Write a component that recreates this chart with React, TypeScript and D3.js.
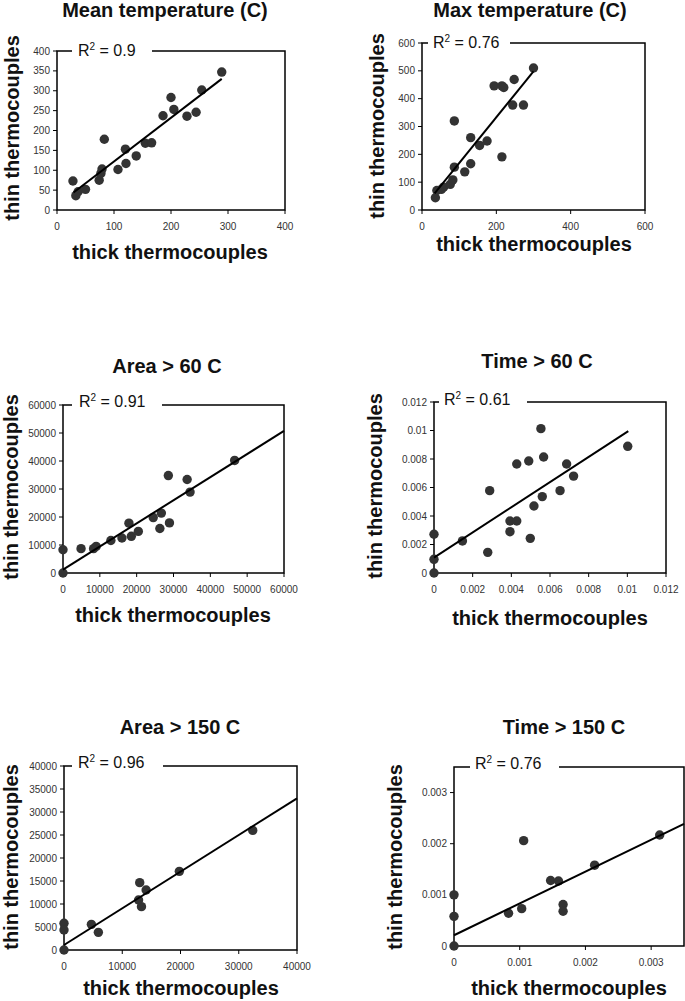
import React from 'react';
import * as d3 from 'd3';

// readings (thick = x, thin = y)
const meanThick = [28, 33, 37, 50, 74, 77, 79, 83, 107, 120, 121, 139, 155, 166, 186, 200, 205, 228, 244, 254, 289];
const meanThin = [73, 36, 46, 52, 75, 92, 103, 178, 102, 153, 117, 136, 168, 169, 237, 283, 253, 236, 246, 302, 347];

const maxThick = [36, 40, 52, 58, 76, 83, 87, 87, 115, 131, 131, 155, 175, 194, 215, 215, 220, 244, 248, 273, 300];
const maxThin = [44, 70, 74, 82, 92, 108, 154, 320, 137, 260, 166, 232, 248, 446, 191, 446, 440, 377, 469, 377, 510];

const area60Thick = [0, 0, 4900, 8300, 9000, 13000, 16000, 17900, 18550, 20450, 24500, 26700, 26300, 28600, 28900, 33700, 34500, 46600];
const area60Thin = [0, 8300, 8700, 8700, 9500, 11600, 12500, 17800, 13100, 14850, 19800, 21400, 15900, 34800, 17900, 33400, 28900, 40200];

const time60Thick = [0, 0, 0, 0.00147, 0.00278, 0.00288, 0.00393, 0.00393, 0.00428, 0.00428, 0.0049, 0.00498, 0.00517, 0.00553, 0.0056, 0.00567, 0.00652, 0.00686, 0.00722, 0.01002];
const time60Thin = [0, 0.00096, 0.00272, 0.00225, 0.00145, 0.00578, 0.0029, 0.00365, 0.00365, 0.00765, 0.00786, 0.00243, 0.0047, 0.01013, 0.00536, 0.00814, 0.00578, 0.00765, 0.0068, 0.00889];

const area150Thick = [0, 0, 0, 4700, 5900, 12800, 13000, 13300, 14100, 19800, 32400];
const area150Thin = [0, 5800, 4350, 5580, 3840, 10870, 14640, 9420, 13040, 17100, 26000];

const time150Thick = [0, 0, 0, 0.00083, 0.00103, 0.00106, 0.00147, 0.00159, 0.00166, 0.00166, 0.00214, 0.00313];
const time150Thin = [0, 0.001, 0.00058, 0.00064, 0.00073, 0.00206, 0.00128, 0.00127, 0.00081, 0.00068, 0.00158, 0.00217];

const titles = ['Mean temperature (C)', 'Max temperature (C)', 'Area > 60 C', 'Time > 60 C', 'Area > 150 C', 'Time > 150 C'];
const r2Labels = ['0.9', '0.76', '0.91', '0.61', '0.96', '0.76'];

// linear fits: [slope, intercept], drawn over [from, to]
const fitSlopes = [1.1, 1.647, 0.826, 0.8836, 0.797, 0.622];
const fitIntercepts = [12, 4, 1200, 0.00108, 1087, 0.00021];
const fitFrom = [29, 34, 0, 0, 0, 0];
const fitTo = [289, 300, 60000, 0.01005, 40000, 0.0035];

const xMax = [400, 600, 60000, 0.012, 40000, 0.0035];
const yMax = [400, 600, 60000, 0.012, 40000, 0.0035];
const xTickVals = [
  [0, 100, 200, 300, 400],
  [0, 200, 400, 600],
  [0, 10000, 20000, 30000, 40000, 50000, 60000],
  [0, 0.002, 0.004, 0.006, 0.008, 0.01, 0.012],
  [0, 10000, 20000, 30000, 40000],
  [0, 0.001, 0.002, 0.003],
];
const yTickVals = [
  [0, 50, 100, 150, 200, 250, 300, 350, 400],
  [0, 100, 200, 300, 400, 500, 600],
  [0, 10000, 20000, 30000, 40000, 50000, 60000],
  [0, 0.002, 0.004, 0.006, 0.008, 0.01, 0.012],
  [0, 5000, 10000, 15000, 20000, 25000, 30000, 35000, 40000],
  [0, 0.001, 0.002, 0.003],
];
const seriesX = [meanThick, maxThick, area60Thick, time60Thick, area150Thick, time150Thick];
const seriesY = [meanThin, maxThin, area60Thin, time60Thin, area150Thin, time150Thin];

// layout (pixels)
const layout = [
  { x0: 57, x1: 285, y0: 51, y1: 210, tx: 165, ty: 16.5, rx: 78, ry: 56, g0: 72, g1: 152, ylx: 18.5, yly: 128, xlx: 170, xly: 259 },
  { x0: 422, x1: 645, y0: 43, y1: 210, tx: 530, ty: 16.5, rx: 433, ry: 48, g0: 428, g1: 510, ylx: 384, yly: 126, xlx: 534, xly: 251 },
  { x0: 63, x1: 284, y0: 405, y1: 573, tx: 167, ty: 373, rx: 79, ry: 407, g0: 72, g1: 162, ylx: 17.5, yly: 487, xlx: 173, xly: 622 },
  { x0: 434, x1: 666, y0: 402, y1: 573, tx: 537, ty: 368, rx: 444, ry: 405, g0: 439, g1: 527, ylx: 382, yly: 486, xlx: 550, xly: 625 },
  { x0: 64, x1: 297, y0: 766, y1: 950, tx: 180, ty: 734, rx: 78, ry: 768, g0: 72, g1: 163, ylx: 18, yly: 857, xlx: 181, xly: 995 },
  { x0: 454, x1: 684, y0: 767, y1: 946, tx: 564, ty: 734, rx: 475, ry: 769, g0: 470, g1: 559, ylx: 402, yly: 857, xlx: 569, xly: 995 },
];

const FONT = '"Liberation Sans", Arial, Helvetica, sans-serif';

const Panel = ({ i }) => {
  const L = layout[i];
  const x = d3.scaleLinear().domain([0, xMax[i]]).range([L.x0, L.x1]);
  const y = d3.scaleLinear().domain([0, yMax[i]]).range([L.y1, L.y0]);
  const fit = d3.line()
    .x(d => x(d))
    .y(d => y(fitSlopes[i] * d + fitIntercepts[i]));
  const pts = seriesX[i].map((v, k) => [v, seriesY[i][k]]);

  return (
    <g>
      <text x={L.tx} y={L.ty} textAnchor="middle" fontFamily={FONT} fontWeight="bold" fontSize={20} fill="#111">{titles[i]}</text>

      {/* plot frame */}
      <rect x={L.x0} y={L.y0} width={L.x1 - L.x0} height={L.y1 - L.y0} fill="none" stroke="#000" strokeWidth={1.5} />

      {/* y axis ticks */}
      {yTickVals[i].map(t => (
        <g key={'y' + t}>
          <line x1={L.x0 - 4} x2={L.x0} y1={y(t)} y2={y(t)} stroke="#000" strokeWidth={1} />
          <text x={L.x0 - 7} y={y(t)} dy="0.35em" textAnchor="end" fontFamily={FONT} fontSize={10} fill="#333">{String(t)}</text>
        </g>
      ))}
      {/* x axis ticks */}
      {xTickVals[i].map(t => (
        <g key={'x' + t}>
          <line x1={x(t)} x2={x(t)} y1={L.y1} y2={L.y1 + 4} stroke="#000" strokeWidth={1} />
          <text x={x(t)} y={L.y1 + 19.5} textAnchor="middle" fontFamily={FONT} fontSize={10} fill="#333">{String(t)}</text>
        </g>
      ))}

      {pts.map((p, k) => (
        <circle key={k} cx={x(p[0])} cy={y(p[1])} r={4.7} fill="#333" />
      ))}

      <path d={fit([fitFrom[i], fitTo[i]])} fill="none" stroke="#000" strokeWidth={2} />

      {/* R² label box */}
      <rect x={L.g0} y={L.y0 - 9} width={L.g1 - L.g0} height={16} fill="#fff" />
      <text x={L.rx} y={L.ry} fontFamily={FONT} fontSize={16} fill="#111">
        R<tspan dy={-6} fontSize={10}>2</tspan><tspan dy={6}> = {r2Labels[i]}</tspan>
      </text>

      <text transform={`translate(${L.ylx},${L.yly}) rotate(-90)`} textAnchor="middle" fontFamily={FONT} fontWeight="bold" fontSize={20} fill="#111">thin thermocouples</text>
      <text x={L.xlx} y={L.xly} textAnchor="middle" fontFamily={FONT} fontWeight="bold" fontSize={20} fill="#111">thick thermocouples</text>
    </g>
  );
};

export default function App() {
  return (
    <svg width={685} height={1001} style={{ position: 'absolute', left: 0, top: 0, background: '#fff' }}>
      <rect width={685} height={1001} fill="#fff" />
      {layout.map((_, i) => <Panel key={i} i={i} />)}
    </svg>
  );
}
